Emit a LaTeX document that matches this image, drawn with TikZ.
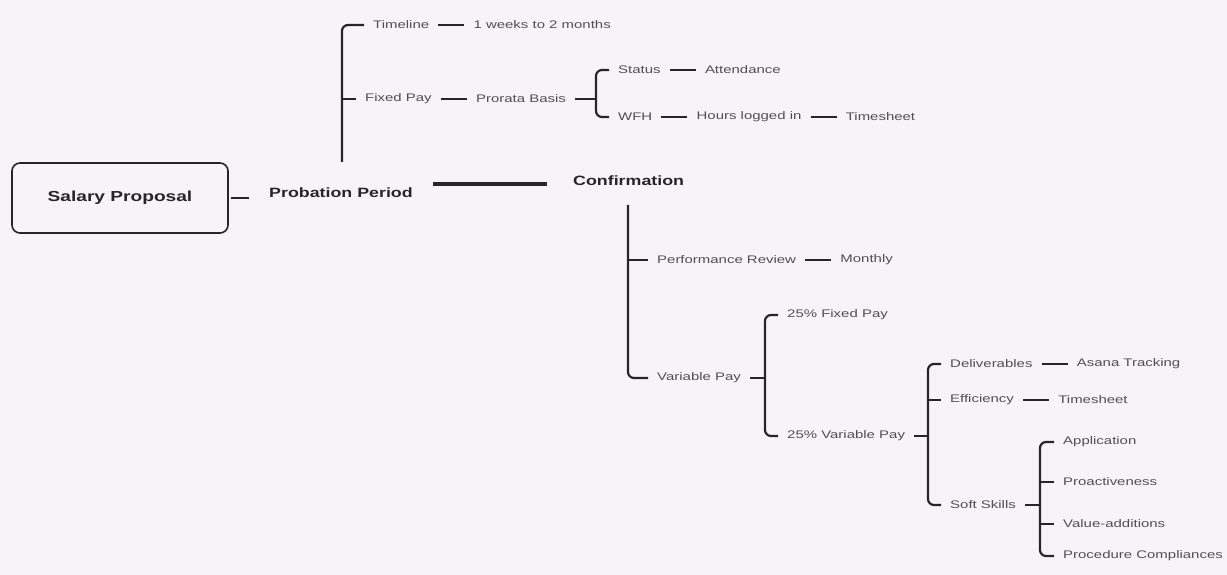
\documentclass[tikz,border=0pt]{standalone}
\usepackage{fontspec}
\setmainfont{Liberation Sans}
\newfontfamily\leaffont[FakeStretch=1.36]{Liberation Sans}
\newfontfamily\headfont[FakeStretch=1.32]{Liberation Sans}
\usetikzlibrary{positioning}
\definecolor{paper}{RGB}{246,244,247}
\definecolor{ink}{RGB}{38,38,38}
\definecolor{leafgray}{RGB}{80,80,80}
\tikzset{
  leaf/.style={anchor=west, inner xsep=9pt, inner ysep=2pt, text=leafgray,
    font=\leaffont\fontsize{11}{13}\selectfont},
  head/.style={inner xsep=0pt, inner ysep=2pt, text=ink,
    font=\headfont\bfseries\fontsize{13.5}{16}\selectfont},
  link/.style={draw=ink, line width=2.2pt},
  trunk/.style={draw=ink, line width=3.2pt},
  branch/.style={draw=ink, line width=2.2pt, rounded corners=6pt},
}
\begin{document}
\begin{tikzpicture}[x=1pt,y=-1pt]
\fill[paper] (0,0) rectangle (1227,575);
\useasboundingbox (0,0) rectangle (1227,575);
%主干
\node[head, draw=ink, line width=1.6pt, rounded corners=8pt, minimum width=216pt, minimum height=70pt,
  font=\headfont\bfseries\fontsize{14.5}{17}\selectfont] (sp) at (120,198) {Salary Proposal};
\node[head, anchor=west] (pp) at (269,193) {Probation Period};
\node[head, anchor=west] (cf) at (573,181) {Confirmation};
\coordinate (trunkrow) at (0,184);
\draw[link, shorten <=2pt, shorten >=20pt] (sp.east) -- (sp.east -| pp.west);
\draw[trunk, shorten <=20pt, shorten >=26pt] (pp.east |- trunkrow) -- (cf.west |- trunkrow);
%试用期
\coordinate (ppstem) at (342,162);
\node[leaf] (tl) at (364,25) {Timeline};
\node[leaf, right=26pt of tl] (tlv) {1 weeks to 2 months};
\node[leaf] (fp) at (356,99) {Fixed Pay};
\node[leaf, right=26pt of fp] (pb) {Prorata Basis};
\draw[branch] (ppstem) |- (tl.west);
\draw[link] (fp.west) -- (fp.west -| ppstem);
\draw[link] (tl) -- (tlv);
\draw[link] (fp) -- (pb);
\coordinate (pbk) at (596,99);
\node[leaf] (st) at (609,70) {Status};
\node[leaf, right=26pt of st] (att) {Attendance};
\node[leaf] (wfh) at (609,117) {WFH};
\node[leaf, right=26pt of wfh] (hl) {Hours logged in};
\node[leaf, right=26pt of hl] (ts1) {Timesheet};
\draw[link] (pb.east) -- (pbk);
\draw[branch] (st.west) -| (pbk) |- (wfh.west);
\draw[link] (st) -- (att);
\draw[link] (wfh) -- (hl);
\draw[link] (hl) -- (ts1);
%转正
\coordinate (cfstem) at (628,205);
\node[leaf] (pr) at (648,260) {Performance Review};
\node[leaf, right=26pt of pr] (mo) {Monthly};
\node[leaf] (vp) at (648,378) {Variable Pay};
\draw[branch] (cfstem) |- (vp.west);
\draw[link] (pr.west) -- (pr.west -| cfstem);
\draw[link] (pr) -- (mo);
\coordinate (vpk) at (765,378);
\node[leaf] (fp25) at (778,315) {25\% Fixed Pay};
\node[leaf] (vp25) at (778,436) {25\% Variable Pay};
\draw[link] (vp.east) -- (vpk);
\draw[branch] (fp25.west) -| (vpk) |- (vp25.west);
%浮动部分
\coordinate (vvk) at (928,436);
\node[leaf] (del) at (941,364) {Deliverables};
\node[leaf, right=26pt of del] (asana) {Asana Tracking};
\node[leaf] (eff) at (941,400) {Efficiency};
\node[leaf, right=26pt of eff] (ts2) {Timesheet};
\node[leaf] (ss) at (941,505) {Soft Skills};
\draw[link] (vp25.east) -- (vvk);
\draw[branch] (del.west) -| (vvk) |- (ss.west);
\draw[link] (eff.west) -- (eff.west -| vvk);
\draw[link] (del) -- (asana);
\draw[link] (eff) -- (ts2);
\coordinate (ssk) at (1040,505);
\node[leaf] (app) at (1054,442) {Application};
\node[leaf] (pro) at (1054,482) {Proactiveness};
\node[leaf] (val) at (1054,524) {Value-additions};
\node[leaf] (proc) at (1054,556) {Procedure Compliances};
\draw[link] (ss.east) -- (ssk);
\draw[branch] (app.west) -| (ssk) |- (proc.west);
\draw[link] (pro.west) -- (pro.west -| ssk);
\draw[link] (val.west) -- (val.west -| ssk);
\end{tikzpicture}
\end{document}
